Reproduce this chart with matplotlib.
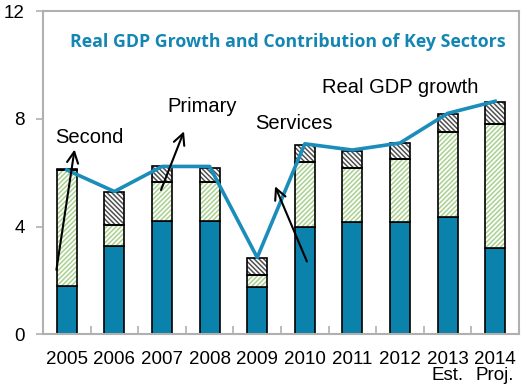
import numpy as np
import matplotlib
matplotlib.use("Agg")
import matplotlib.pyplot as plt

years = ["2005", "2006", "2007", "2008", "2009", "2010", "2011", "2012", "2013\nEst.", "2014\nProj."]
services = [1.81, 3.26, 4.22, 4.22, 1.75, 3.98, 4.16, 4.16, 4.35, 3.20]
secondary = [4.27, 0.80, 1.43, 1.43, 0.45, 2.41, 2.01, 2.36, 3.16, 4.62]
primary = [0.06, 1.22, 0.61, 0.54, 0.65, 0.65, 0.62, 0.58, 0.68, 0.79]
gdp_growth = [6.1, 5.3, 6.23, 6.23, 2.85, 7.07, 6.84, 7.1, 8.2, 8.65]

blue = "#0b82ab"
line_blue = "#1a8dba"
green_hatch = "#a9d18e"
grey_hatch = "#505050"

plt.rcParams["font.family"] = ["Liberation Sans", "DejaVu Sans"]
plt.rcParams["hatch.linewidth"] = 1.1

fig = plt.figure(figsize=(5.21, 3.88), dpi=100)
ax = fig.add_axes([43 / 521, 1 - 334.3 / 388, (519 - 43) / 521, (334.3 - 11) / 388])

x = np.arange(len(years))
w = 0.42
services = np.array(services)
secondary = np.array(secondary)
primary = np.array(primary)

ax.bar(x, services, w, color=blue, edgecolor="black", linewidth=1.2, zorder=2)
ax.bar(x, secondary, w, bottom=services, color="white", edgecolor=green_hatch,
       hatch="///////", linewidth=0, zorder=2)
ax.bar(x, secondary, w, bottom=services, fill=False, edgecolor="black", linewidth=1.2, zorder=3)
ax.bar(x, primary, w, bottom=services + secondary, color="white", edgecolor=grey_hatch,
       hatch="\\\\\\\\\\\\\\", linewidth=0, zorder=2)
ax.bar(x, primary, w, bottom=services + secondary, fill=False, edgecolor="black", linewidth=1.2, zorder=3)

ax.plot(x, gdp_growth, color=line_blue, linewidth=2.6, zorder=4)

ax.set_xlim(-0.5, 9.5)
ax.set_ylim(0, 12)
ax.set_yticks([0, 4, 8, 12])
ax.set_xticks(x)
ax.set_xticklabels(years, fontsize=13.5, linespacing=0.95)
ax.set_xticks(np.arange(-0.5, 10, 1), minor=True)
ax.tick_params(axis="x", which="major", length=0, pad=12)
ax.tick_params(axis="x", which="minor", direction="in", length=6, color="#b0b0b0", width=1.2)
ax.tick_params(axis="y", direction="out", length=5, color="#b0b0b0", width=1.2, labelsize=13.5, pad=8)
for s in ax.spines.values():
    s.set_color("#b0b0b0")
    s.set_linewidth(1.5)

ax.text(0.067, 10.86, "Real GDP Growth and Contribution of Key Sectors", family=["Open Sans", "DejaVu Sans"],
        fontweight="bold", fontsize=12.8, color="#1386b3", va="center", ha="left")

arrow = dict(arrowstyle="->", color="black", lw=1.5, mutation_scale=20)
ax.annotate("", xy=(0.172, 6.96), xytext=(-0.227, 2.29), arrowprops=arrow, zorder=5)
ax.annotate("", xy=(2.483, 7.63), xytext=(1.958, 5.26), arrowprops=arrow, zorder=5)
ax.annotate("", xy=(4.353, 5.59), xytext=(5.067, 2.61), arrowprops=arrow, zorder=5)

ax.text(-0.248, 7.3, "Second", fontsize=14.5, va="center", ha="left", zorder=6)
ax.text(2.105, 8.46, "Primary", fontsize=14.5, va="center", ha="left")
ax.text(3.95, 7.82, "Services", fontsize=14.5, va="center", ha="left")
ax.text(5.36, 9.16, "Real GDP growth", fontsize=14.5, va="center", ha="left")

fig.savefig("out.png", dpi=100)
